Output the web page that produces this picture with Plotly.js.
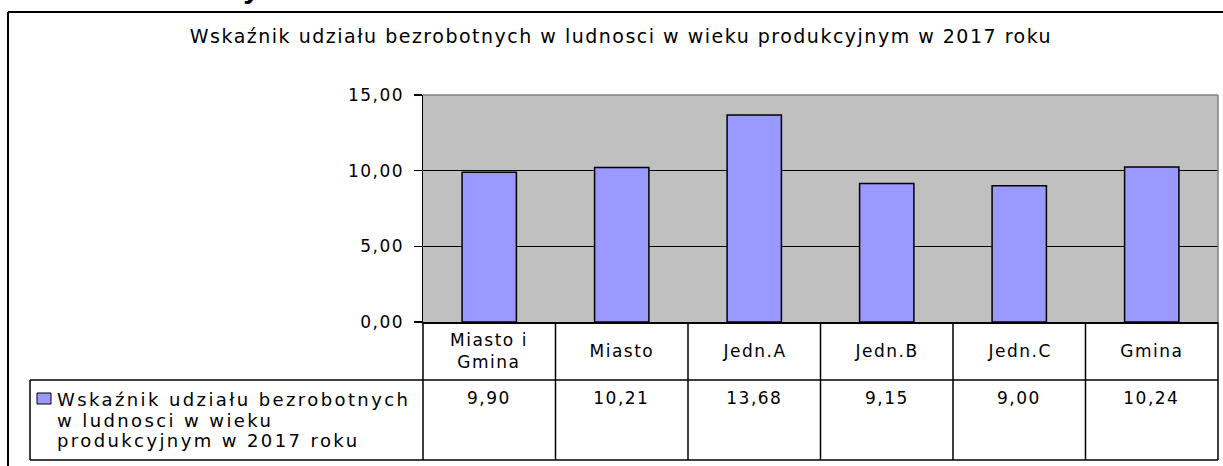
<!DOCTYPE html>
<html>
<head>
<meta charset="utf-8">
<script src="https://cdn.plot.ly/plotly-3.0.1.min.js"></script>
<style>
  html, body { margin: 0; padding: 0; background: #ffffff; }
  #chart { width: 1223px; height: 466px; }
  #chart text { letter-spacing: 1.5px; }
  #chart .annotation.legend-line text { letter-spacing: 2.4px; }
</style>
</head>
<body>
<div id="chart"></div>
<script>
// ---- data ----
const categories = ['Miasto i Gmina', 'Miasto', 'Jedn.A', 'Jedn.B', 'Jedn.C', 'Gmina'];
const categoryLabels = ['Miasto i<br>Gmina', 'Miasto', 'Jedn.A', 'Jedn.B', 'Jedn.C', 'Gmina'];
const values = [9.90, 10.21, 13.68, 9.15, 9.00, 10.24];
const seriesName = 'Wskaźnik udziału bezrobotnych w ludnosci w wieku produkcyjnym w 2017 roku';
const legendLines = ['Wskaźnik udziału bezrobotnych', 'w ludnosci w wieku', 'produkcyjnym w 2017 roku'];
const chartTitle = 'Wskaźnik udziału bezrobotnych w ludnosci w wieku produkcyjnym w 2017 roku';
const yTicks = [0, 5, 10, 15];
const headingFragment = 'y';

// ---- geometry helpers (pixel -> paper) ----
const W = 1223, H = 466;
const L = 423, R = 1218, T = 95, B = 322;
const px = x => (x - L) / (R - L);
const py = y => (B - y) / (B - T);

const FONT = 'DejaVu Sans, Liberation Sans, Arial, sans-serif';
const fmt = v => v.toFixed(2).replace('.', ',');

const trace = {
  type: 'bar',
  x: categories,
  y: values,
  name: seriesName,
  marker: { color: '#9999FF', line: { color: '#000000', width: 1.5 } },
  hoverinfo: 'x+y',
  showlegend: false
};

const lineStyle = { color: '#000000', width: 1.5 };
const shapes = [];
// outer chart border (top and left visible)
shapes.push({ type: 'line', xref: 'paper', yref: 'paper', x0: px(8), x1: px(1224), y0: py(12), y1: py(12), line: { color: '#000', width: 2 } });
shapes.push({ type: 'line', xref: 'paper', yref: 'paper', x0: px(8), x1: px(8), y0: py(12), y1: py(470), line: { color: '#000', width: 2 } });
// plot area border (top and right in gray)
shapes.push({ type: 'line', xref: 'paper', yref: 'paper', x0: 0, x1: 1, y0: 1, y1: 1, line: { color: '#808080', width: 1.5 } });
shapes.push({ type: 'line', xref: 'paper', yref: 'paper', x0: 1, x1: 1, y0: 0, y1: 1, line: { color: '#808080', width: 1.5 } });
// data table
shapes.push({ type: 'line', xref: 'paper', yref: 'paper', x0: px(30), x1: 1, y0: py(380), y1: py(380), line: lineStyle });
shapes.push({ type: 'line', xref: 'paper', yref: 'paper', x0: px(30), x1: 1, y0: py(460), y1: py(460), line: lineStyle });
shapes.push({ type: 'line', xref: 'paper', yref: 'paper', x0: px(30), x1: px(30), y0: py(380), y1: py(460), line: lineStyle });
for (let k = 0; k <= categories.length; k++) {
  shapes.push({ type: 'line', xref: 'paper', yref: 'paper', x0: k / categories.length, x1: k / categories.length, y0: 0, y1: py(460), line: lineStyle });
}
// legend key
shapes.push({ type: 'rect', xref: 'paper', yref: 'paper', x0: px(37), x1: px(51), y0: py(393), y1: py(404), fillcolor: '#9999FF', line: { color: '#000', width: 1 } });

const annotations = [];
categories.forEach((c, i) => {
  annotations.push({ xref: 'x', yref: 'paper', x: c, y: py(351), yanchor: 'middle', xanchor: 'center',
    text: categoryLabels[i], showarrow: false, font: { family: FONT, size: 17, color: '#000' } });
  annotations.push({ xref: 'x', yref: 'paper', x: c, y: py(398), yanchor: 'middle', xanchor: 'center',
    text: fmt(values[i]), showarrow: false, font: { family: FONT, size: 17, color: '#000' } });
});
const legendStart = annotations.length;
legendLines.forEach((t, j) => {
  annotations.push({ xref: 'paper', yref: 'paper', x: px(55), y: py(399 + 21 * j), xanchor: 'left', yanchor: 'middle', align: 'left',
    text: t, showarrow: false, font: { family: FONT, size: 18, color: '#000' } });
});
annotations.push({ xref: 'paper', yref: 'paper', x: px(252), y: py(-12), xanchor: 'center', yanchor: 'middle',
  text: '<b>' + headingFragment + '</b>', showarrow: false, font: { family: 'Liberation Sans, Arial, sans-serif', size: 30, color: '#000' } });

const layout = {
  width: W, height: H,
  margin: { l: L, r: W - R, t: T, b: H - B, pad: 0 },
  paper_bgcolor: '#ffffff',
  plot_bgcolor: '#C0C0C0',
  separators: ', ',
  bargap: 0.59,
  font: { family: FONT, size: 17, color: '#000' },
  title: {
    text: chartTitle,
    xref: 'container', yref: 'container',
    x: 621 / W, xanchor: 'center',
    y: 1 - 36 / H, yanchor: 'middle',
    font: { family: FONT, size: 19, color: '#000' }
  },
  xaxis: {
    type: 'category',
    showticklabels: false, ticks: '', showgrid: false,
    showline: true, linecolor: '#000', linewidth: 1.5,
    fixedrange: true
  },
  yaxis: {
    range: [0, 15],
    tickvals: yTicks,
    tickformat: '.2f',
    ticks: 'outside', ticklen: 8, tickwidth: 1.5, tickcolor: '#000',
    ticklabelstandoff: 6,
    showline: true, linecolor: '#000', linewidth: 1.5,
    showgrid: true, gridcolor: '#000', gridwidth: 1,
    zeroline: false,
    tickfont: { family: FONT, size: 17, color: '#000' },
    fixedrange: true
  },
  shapes: shapes,
  annotations: annotations
};

Plotly.newPlot('chart', [trace], layout, { displayModeBar: false, staticPlot: true }).then(gd => {
  legendLines.forEach((t, j) => {
    const g = gd.querySelector('.annotation[data-index="' + (legendStart + j) + '"]');
    if (g) g.classList.add('legend-line');
  });
});
</script>
</body>
</html>
